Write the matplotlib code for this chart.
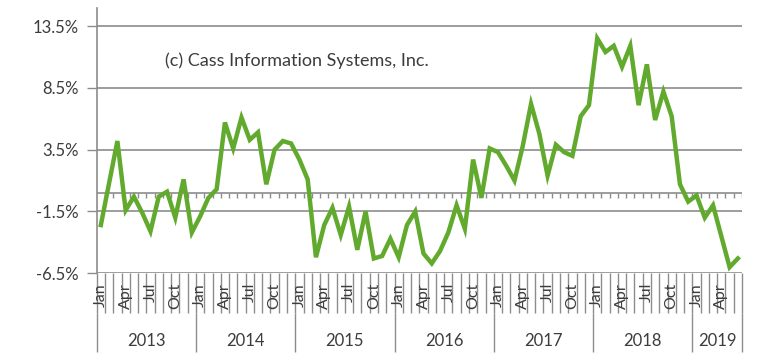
import matplotlib
matplotlib.use("Agg")
import matplotlib.pyplot as plt
import numpy as np

plt.rcParams['font.family'] = ['Lato', 'DejaVu Sans']

years = ["2013", "2014", "2015", "2016", "2017", "2018", "2019"]
months_per_year = [12, 12, 12, 12, 12, 12, 6]
month_names = ["Jan", "Feb", "Mar", "Apr", "May", "Jun",
               "Jul", "Aug", "Sep", "Oct", "Nov", "Dec"]
values = [
    -2.6, 0.8, 4.2, -1.4, -0.3, -1.6, -3.1, -0.3, 0.1, -2.0, 1.1, -3.2,   # 2013
    -1.9, -0.4, 0.3, 5.7, 3.6, 6.1, 4.3, 4.9, 0.7, 3.5, 4.2, 4.0,         # 2014
    2.7, 1.1, -5.2, -2.6, -1.2, -3.4, -1.1, -4.6, -1.5, -5.3, -5.1, -3.7, # 2015
    -5.2, -2.6, -1.5, -4.9, -5.7, -4.7, -3.2, -1.0, -2.9, 2.7, -0.4, 3.6, # 2016
    3.3, 2.2, 1.0, 3.8, 7.2, 4.8, 1.4, 3.9, 3.3, 3.0, 6.2, 7.1,           # 2017
    12.5, 11.4, 11.9, 10.2, 11.9, 7.1, 10.4, 5.9, 8.2, 6.2, 0.7, -0.7,    # 2018
    -0.2, -2.0, -1.0, -3.5, -6.0, -5.3,                                   # 2019
]
yticks = [-6.5, -1.5, 3.5, 8.5, 13.5]
ytick_labels = ["-6.5%", "-1.5%", "3.5%", "8.5%", "13.5%"]
shown_months = ["Jan", "Apr", "Jul", "Oct"]
copyright_text = "(c) Cass Information Systems, Inc."

W, H = 768, 360
fig = plt.figure(figsize=(W / 100, H / 100), dpi=100)
x0, x1 = 96.7, 742.0
ytop, ybot = 7.5, 273.3
ax = fig.add_axes([x0 / W, 1 - ybot / H, (x1 - x0) / W, (ybot - ytop) / H])

grid_c = "#8c8c8c"
text_c = "#3c3c3c"
green = "#62AA2E"

n = len(values)
x = np.arange(n)
ax.set_xlim(-0.5, n - 0.5)
ax.set_ylim(-6.5, 15)

for s in ["top", "right", "bottom"]:
    ax.spines[s].set_visible(False)
ax.spines["left"].set_color(grid_c)
ax.spines["left"].set_linewidth(1.2)

ax.set_yticks(yticks)
ax.set_yticklabels(ytick_labels, fontsize=12, color=text_c)
ax.tick_params(axis="y", length=7, color=grid_c, width=1.0, pad=6)
ax.set_xticks([])
for yv in yticks:
    ax.axhline(yv, color=grid_c, lw=1.2, zorder=1)

# horizontal category axis crossing at 0 with month tick marks
ax.axhline(0, color=grid_c, lw=1.2, zorder=1)
bounds = np.arange(n + 1) - 0.5
ax.vlines(bounds[1:], -0.4, 0, color=grid_c, lw=1.0, zorder=1)

ax.plot(x, values, color=green, lw=3.2, solid_joinstyle="miter", zorder=3)

axh = ybot - ytop
ax.text((165 - x0) / (x1 - x0), (ybot - 61) / axh, copyright_text,
        transform=ax.transAxes, fontsize=13, color=text_c,
        ha="left", va="center")

# multi-level category labels below
tr = ax.get_xaxis_transform()
def fy(py):
    return -(py - ybot) / axh

ax.vlines(bounds, fy(313), 0, transform=tr, color=grid_c, lw=1.0, clip_on=False)
idx = 0
year_starts = [0]
for yr, cnt in zip(years, months_per_year):
    for m in range(cnt):
        name = month_names[m]
        if name in shown_months:
            ax.text(idx + m, fy(283), name, transform=tr, rotation=90,
                    ha="center", va="top", fontsize=11.5, color=text_c,
                    clip_on=False)
    ax.text(idx + cnt / 2 - 0.5, fy(341), yr, transform=tr, ha="center",
            va="center", fontsize=12, color=text_c, clip_on=False)
    idx += cnt
    year_starts.append(idx)
ax.vlines(np.array(year_starts) - 0.5, fy(352), fy(313), transform=tr,
          color=grid_c, lw=1.0, clip_on=False)

fig.savefig("out.png", dpi=100)
